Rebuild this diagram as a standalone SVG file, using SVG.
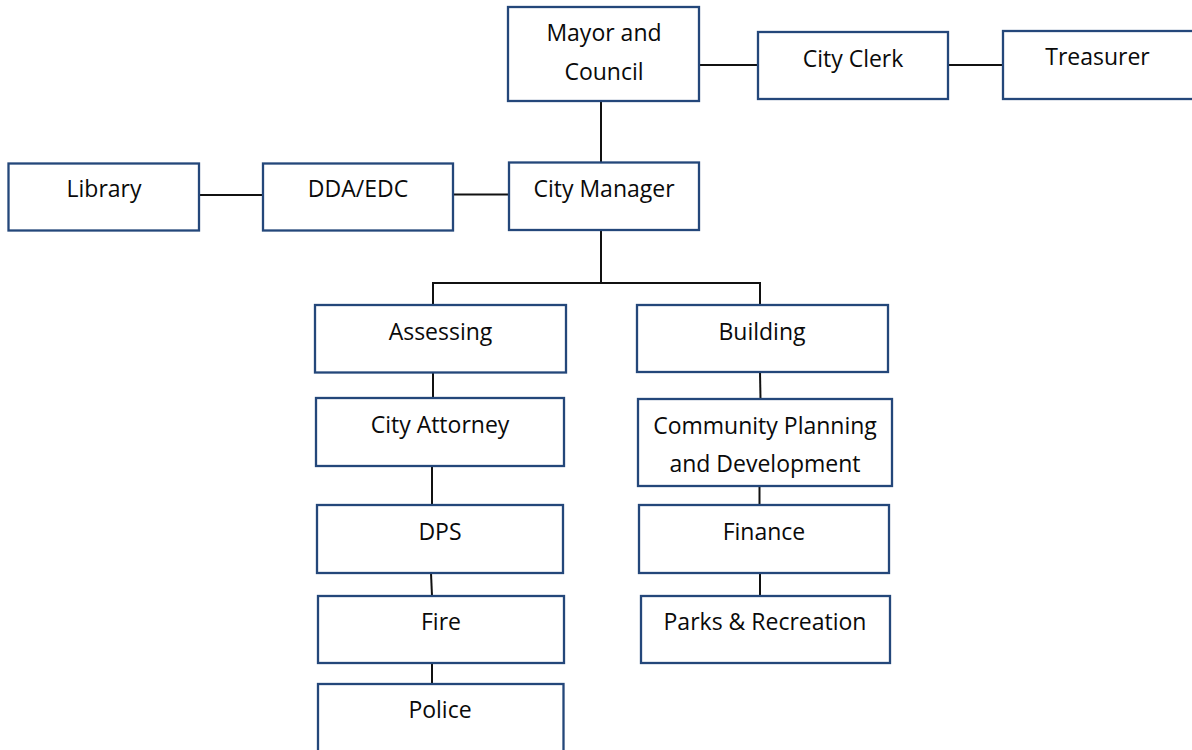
<svg xmlns="http://www.w3.org/2000/svg" width="1192" height="750" viewBox="0 0 1192 750">
  <style>
    .box { fill: #ffffff; stroke: #24477A; stroke-width: 2.3; }
    .lbl { font-family: "Open Sans", "Noto Sans", "Liberation Sans", sans-serif; font-size: 23px; fill: #0a0a0a; text-anchor: middle; }
    .wire { stroke: #111111; stroke-width: 2; fill: none; }
  </style>
  <rect width="1192" height="750" fill="#ffffff"/>

  <!-- connectors -->
  <g id="connectors" class="wire">
    <line x1="699" y1="65" x2="758" y2="65"/>
    <line x1="948" y1="65" x2="1003" y2="65"/>
    <line x1="601" y1="101" x2="601" y2="162"/>
    <line x1="199" y1="195" x2="263" y2="195"/>
    <line x1="453" y1="194.5" x2="509" y2="194.5"/>
    <polyline points="601,230 601,283"/>
    <polyline points="433,305 433,283 760,283 760,305"/>
    <line x1="433" y1="372" x2="433" y2="398"/>
    <line x1="432" y1="466" x2="432" y2="505"/>
    <line x1="431" y1="573" x2="432" y2="596"/>
    <line x1="432" y1="663" x2="432" y2="684"/>
    <line x1="760" y1="372" x2="760.5" y2="399"/>
    <line x1="759.5" y1="486" x2="759.5" y2="505"/>
    <line x1="760" y1="573" x2="760" y2="596"/>
  </g>

  <g id="mayor-council">
    <rect class="box" x="508" y="7" width="191" height="94"/>
    <text class="lbl" x="604" y="41">Mayor and</text>
    <text class="lbl" x="604" y="80">Council</text>
  </g>
  <g id="city-clerk">
    <rect class="box" x="758" y="32" width="190" height="67"/>
    <text class="lbl" x="853" y="67">City Clerk</text>
  </g>
  <g id="treasurer">
    <rect class="box" x="1003" y="31" width="200" height="68"/>
    <text class="lbl" x="1097.5" y="65">Treasurer</text>
  </g>
  <g id="library">
    <rect class="box" x="8.5" y="163.5" width="190.5" height="67"/>
    <text class="lbl" x="104" y="197">Library</text>
  </g>
  <g id="dda-edc">
    <rect class="box" x="263" y="163.5" width="190" height="67"/>
    <text class="lbl" x="358" y="197">DDA/EDC</text>
  </g>
  <g id="city-manager">
    <rect class="box" x="509" y="162.5" width="190" height="67.5"/>
    <text class="lbl" x="604" y="197">City Manager</text>
  </g>
  <g id="assessing">
    <rect class="box" x="315" y="305" width="251" height="67.5"/>
    <text class="lbl" x="440.5" y="339.5">Assessing</text>
  </g>
  <g id="city-attorney">
    <rect class="box" x="316" y="398" width="248" height="68"/>
    <text class="lbl" x="440" y="432.5">City Attorney</text>
  </g>
  <g id="dps">
    <rect class="box" x="317" y="505" width="246" height="68"/>
    <text class="lbl" x="440" y="540">DPS</text>
  </g>
  <g id="fire">
    <rect class="box" x="318" y="596" width="246" height="67"/>
    <text class="lbl" x="441" y="630">Fire</text>
  </g>
  <g id="police">
    <rect class="box" x="318" y="684" width="245.5" height="80"/>
    <text class="lbl" x="440" y="718">Police</text>
  </g>
  <g id="building">
    <rect class="box" x="637" y="305" width="251" height="67"/>
    <text class="lbl" x="762" y="339.5">Building</text>
  </g>
  <g id="community-planning">
    <rect class="box" x="638" y="399" width="254" height="87"/>
    <text class="lbl" x="765" y="433.5">Community Planning</text>
    <text class="lbl" x="765" y="472">and Development</text>
  </g>
  <g id="finance">
    <rect class="box" x="639" y="505" width="250" height="68"/>
    <text class="lbl" x="764" y="539.5">Finance</text>
  </g>
  <g id="parks-recreation">
    <rect class="box" x="641" y="596" width="249" height="67"/>
    <text class="lbl" x="765" y="629.5">Parks &amp; Recreation</text>
  </g>
</svg>
